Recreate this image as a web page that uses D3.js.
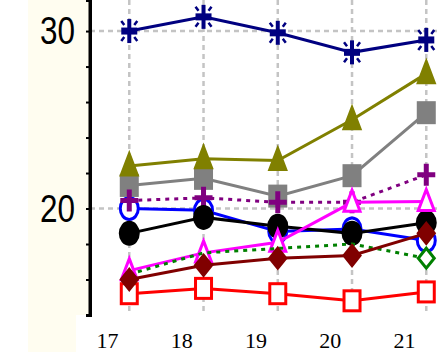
<!DOCTYPE html>
<html>
<head>
<meta charset="utf-8">
<script src="https://cdn.jsdelivr.net/npm/d3@7"></script>
<style>
  body { margin: 0; background: #fff; }
  svg { display: block; }
</style>
</head>
<body>
<script>
// chart size
let width = 437, height = 352;

// data
let xValues = [17.3, 18.3, 19.3, 20.3, 21.3];
let xTicks = [17, 18, 19, 20, 21];
let yTicks = [14, 16, 18, 20, 22, 24, 26, 28, 30];
let yLabels = [20, 30];

let navy = [30.0, 30.8, 29.9, 28.8, 29.5];
let olive = [22.4, 22.8, 22.7, 25.0, 27.6];
let gray = [21.3, 21.7, 20.7, 21.85, 25.4];
let purple = [20.45, 20.6, 20.35, 20.35, 21.9];
let blue = [20.0, 19.9, 18.7, 18.85, 18.2];
let black = [18.6, 19.5, 19.0, 18.6, 19.2];
let magenta = [16.5, 17.5, 18.1, 20.35, 20.4];
let green = [16.3, 17.5, 17.75, 18.0, 17.2];
let darkred = [16.0, 16.8, 17.2, 17.35, 18.6];
let red = [15.2, 15.5, 15.2, 14.8, 15.3];

// drawing order, bottom first
let series = [
  {values: red, color: "#ff0000", marker: "square", fill: "#fff", dash: null},
  {values: blue, color: "#0000ff", marker: "circle", fill: "#fff", dash: null},
  {values: gray, color: "#808080", marker: "square", fill: "#808080", dash: null},
  {values: olive, color: "#808000", marker: "triangle", fill: "#808000", dash: null},
  {values: purple, color: "#800080", marker: "plus", fill: "none", dash: "4,5"},
  {values: black, color: "#000000", marker: "circle", fill: "#000", dash: null},
  {values: magenta, color: "#ff00ff", marker: "triangle", fill: "#fff", dash: null},
  {values: green, color: "#008000", marker: "diamond", fill: "#fff", dash: "4,5", only: [4]},
  {values: darkred, color: "#800000", marker: "diamond", fill: "#800000", dash: null},
  {values: navy, color: "#000080", marker: "star", fill: "none", dash: null}
];

// scales
let x = d3.scaleLinear().domain([17, 21]).range([107, 404]);
let y = d3.scaleLinear().domain([14, 31.75]).range([315, 0]);

let svg = d3.select("body").append("svg")
    .attr("width", width)
    .attr("height", height);

// cream panel behind the y labels
svg.append("path")
    .attr("d", "M28,0H90V315H76V352H28Z")
    .attr("fill", "#fffdf0");

// grid lines
let grid = svg.append("g")
    .attr("stroke", "#c4c4c4")
    .attr("stroke-width", 2.5)
    .attr("stroke-dasharray", "5,4");

grid.selectAll(".vgrid")
    .data(xValues)
  .enter().append("line")
    .attr("x1", d => x(d))
    .attr("x2", d => x(d))
    .attr("y1", y.range()[1])
    .attr("y2", y.range()[0]);

grid.selectAll(".hgrid")
    .data(yLabels)
  .enter().append("line")
    .attr("x1", 90)
    .attr("x2", width)
    .attr("y1", d => y(d))
    .attr("y2", d => y(d));

// y axis
let yAxis = d3.axisLeft(y)
    .tickValues(yTicks)
    .tickSize(4)
    .tickPadding(11)
    .tickFormat(d => yLabels.indexOf(d) >= 0 ? d : "");

let gy = svg.append("g")
    .attr("transform", "translate(90,0)")
    .call(yAxis);
gy.select(".domain").attr("stroke", "#000").attr("stroke-width", 3);
gy.selectAll(".tick line").attr("stroke", "#000").attr("stroke-width", 2);
gy.selectAll(".tick text")
    .filter(d => yLabels.indexOf(d) >= 0)
    .attr("fill", "#000")
    .attr("textLength", 35)
    .attr("lengthAdjust", "spacingAndGlyphs")
    .style("font-family", "'Liberation Sans', Arial, sans-serif")
    .style("font-size", "39px");

// x axis
let xAxis = d3.axisBottom(x)
    .tickValues(xTicks)
    .tickSize(0)
    .tickFormat(d3.format("d"));

let gx = svg.append("g")
    .attr("transform", "translate(0,329)")
    .call(xAxis);
gx.select(".domain").remove();
gx.selectAll(".tick text")
    .attr("fill", "#000")
    .style("font-family", "'Liberation Serif', 'Times New Roman', serif")
    .style("font-size", "22px");

// lines and markers
let line = d3.line()
    .x((d, i) => x(xValues[i]))
    .y(d => y(d));

let mw = 8, mh = 10; // marker half sizes

function drawMarker(g, s) {
  let c = s.color;
  if (s.marker === "square") {
    g.append("rect").attr("x", -mw).attr("y", -mh).attr("width", 2 * mw).attr("height", 2 * mh)
      .attr("fill", s.fill).attr("stroke", c).attr("stroke-width", 3);
  } else if (s.marker === "circle") {
    g.append("ellipse").attr("rx", mw + 1).attr("ry", mh + 1)
      .attr("fill", s.fill).attr("stroke", c).attr("stroke-width", 3);
  } else if (s.marker === "triangle") {
    g.append("path").attr("d", `M0,${-mh - 2}L${mw},${mh - 1}L${-mw},${mh - 1}Z`)
      .attr("fill", s.fill).attr("stroke", c).attr("stroke-width", 3).attr("stroke-linejoin", "miter");
  } else if (s.marker === "diamond") {
    g.append("path").attr("d", `M0,${-mh}L${mw},0L0,${mh}L${-mw},0Z`)
      .attr("fill", s.fill).attr("stroke", c).attr("stroke-width", 3);
  } else if (s.marker === "plus") {
    g.append("path").attr("d", `M0,${-mh - 1}V${mh + 1}M${-mw - 1},0H${mw + 1}`)
      .attr("stroke", c).attr("stroke-width", 5);
  } else if (s.marker === "star") {
    g.append("path").attr("d", `M0,${-mh - 2}V${mh + 2}`)
      .attr("stroke", c).attr("stroke-width", 4);
    g.append("path").attr("d", `M${-mw},0H${mw}`)
      .attr("stroke", c).attr("stroke-width", 7);
    g.append("path")
      .attr("d", `M${-mw},${-mh}L${-mw + 3},${-mh + 4}M${mw},${-mh}L${mw - 3},${-mh + 4}` +
                 `M${-mw},${mh}L${-mw + 3},${mh - 4}M${mw},${mh}L${mw - 3},${mh - 4}`)
      .attr("stroke", c).attr("stroke-width", 2.5);
  }
}

series.forEach(function(s) {
  svg.append("path")
      .attr("d", line(s.values))
      .attr("fill", "none")
      .attr("stroke", s.color)
      .attr("stroke-width", 3)
      .attr("stroke-dasharray", s.dash);

  s.values.forEach(function(v, i) {
    if (s.only && s.only.indexOf(i) < 0) return;
    let g = svg.append("g")
        .attr("transform", "translate(" + x(xValues[i]) + "," + y(v) + ")");
    drawMarker(g, s);
  });
});

// axis line drawn again on top
svg.append("line")
    .attr("x1", 90).attr("x2", 90)
    .attr("y1", 0).attr("y2", 315)
    .attr("stroke", "#000").attr("stroke-width", 3);
</script>
</body>
</html>
